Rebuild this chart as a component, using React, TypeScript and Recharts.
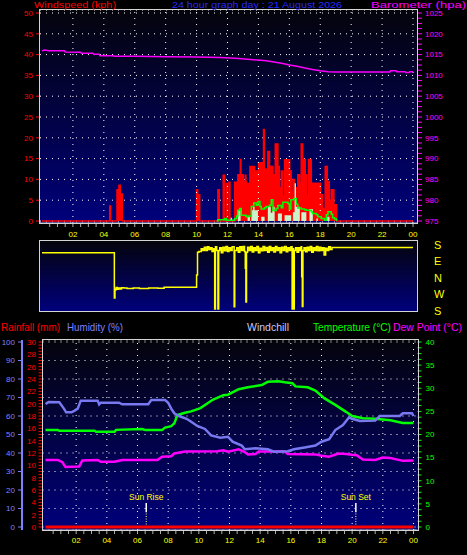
import React from "react";
import { ComposedChart, Area, Line, XAxis, YAxis, CartesianGrid, ReferenceLine } from "recharts";

type Pt = [number, number];

// x axis: hours of the day
const hourMajor = [2, 4, 6, 8, 10, 12, 14, 16, 18, 20, 22, 24];
const hourLabels = ["02", "04", "06", "08", "10", "12", "14", "16", "18", "20", "22", "00"];
const hourMinor = Array.from({ length: 48 }, (_, i) => (i + 1) / 2);

const windTicks = [0, 5, 10, 15, 20, 25, 30, 35, 40, 45, 50];
const baroTicks = Array.from({ length: 41 }, (_, i) => 975 + i * 1.25);
const rainTicks = Array.from({ length: 61 }, (_, i) => i / 2);
const humTicks = [0, 10, 20, 30, 40, 50, 60, 70, 80, 90, 100];
const tempTicks = Array.from({ length: 33 }, (_, i) => i * 1.25);
const dirTicks = [180, 90, 0, -90, -180];
const dirLabels = ["S", "E", "N", "W", "S"];

// wind gust (kph), [hour, value]
const gustKph: Pt[] = [
  [0, 0], [4.3, 0], [4.38, 3.6], [4.44, 0], [4.85, 7.5], [4.93, 5.5], [4.98, 8.6], [5.06, 5], [5.12, 6.5], [5.2, 0],
  [10.0, 7.5], [10.07, 5], [10.12, 6.3], [10.2, 0],
  [11.38, 7.5], [11.47, 0], [11.72, 11], [11.81, 0], [11.94, 9], [11.98, 0], [12.09, 9.3], [12.16, 0],
  [12.46, 9.3], [12.56, 5], [12.6, 9.3], [12.67, 11.1], [12.83, 14.8], [12.87, 6], [12.93, 11.1], [13.02, 4],
  [13.06, 9.5], [13.15, 11], [13.19, 9.5], [13.23, 3], [13.3, 9], [13.36, 5], [13.45, 13.1], [13.55, 8],
  [13.6, 13.1], [13.75, 12], [13.85, 6], [13.9, 12], [14.01, 14], [14.12, 9], [14.17, 14], [14.29, 10],
  [14.33, 22], [14.38, 12.5], [14.45, 6], [14.52, 12.5], [14.61, 16.7], [14.72, 13.1], [14.8, 7], [14.87, 13.1],
  [14.94, 11.1], [15.05, 4], [15.09, 18.5], [15.26, 13.1], [15.35, 8], [15.48, 12], [15.56, 6], [15.69, 14.7],
  [15.8, 9], [15.86, 14.7], [16.02, 12], [16.12, 7], [16.23, 10], [16.33, 5], [16.45, 8], [16.55, 11.1],
  [16.66, 9], [16.77, 18.5], [16.86, 5], [16.9, 14.8], [17.03, 11.1], [17.12, 6], [17.24, 14.8], [17.42, 9.1],
  [17.55, 4], [17.62, 9.1], [17.75, 7], [17.85, 9.1], [18.02, 6.3], [18.15, 3], [18.32, 13.1], [18.45, 9.5],
  [18.58, 5], [18.71, 7.5], [18.88, 2], [18.97, 3.9], [19.06, 0], [24, 0],
];

// wind speed (kph)
const speedKph: Pt[] = [
  [12.2, 0.8], [12.3, 0], [12.6, 0], [12.67, 2.5], [12.85, 0], [13.3, 1], [13.45, 0], [13.54, 2.6], [13.65, 3.4],
  [13.75, 2.6], [13.97, 0], [14.18, 1], [14.4, 0], [14.61, 3.4], [14.8, 2], [14.9, 3.4], [15.05, 0], [15.26, 1.8],
  [15.52, 0], [15.69, 1.4], [16.12, 0], [16.23, 2.1], [16.34, 9.1], [16.43, 3.4], [16.68, 0], [16.77, 2.1],
  [17.1, 0], [17.3, 2.9], [17.52, 0], [17.75, 0.6], [17.85, 0], [18.4, 1], [18.6, 0],
];

// average wind (kph)
const avgKph: Pt[] = [
  [11.3, 0], [11.38, 0.3], [11.81, 0.6], [11.92, 0.2], [12.46, 0.6], [12.6, 1.2], [12.67, 2.6], [12.8, 3],
  [12.89, 1.4], [13.2, 1], [13.32, 1.2], [13.54, 3.5], [13.7, 4.3], [13.86, 3.8], [13.97, 4.7], [14.1, 3.5],
  [14.18, 2.9], [14.4, 3.2], [14.5, 3.5], [14.72, 3.8], [14.83, 5.1], [14.94, 2.5], [15.15, 3], [15.26, 3.7],
  [15.48, 3.2], [15.58, 4.5], [15.91, 4.2], [16.0, 2.9], [16.1, 5.1], [16.3, 5.4], [16.45, 4], [16.55, 3.1],
  [16.77, 2.9], [16.99, 2.7], [17.1, 2.6], [17.42, 2.2], [17.5, 1.8], [17.75, 1.5], [17.85, 1], [18.06, 0.6],
  [18.28, 0.2], [18.4, 1.5], [18.5, 2.2], [18.71, 1.6], [18.8, 0.8], [18.93, 0.5], [19.05, 0],
];

// barometer (hPa)
const baroHpa: Pt[] = [
  [0, 1015.9], [0.15, 1016.1], [0.45, 1015.9], [1.45, 1015.9], [1.5, 1015.6], [2.5, 1015.55], [2.55, 1015.3],
  [3.3, 1015.3], [3.35, 1015.1], [3.7, 1015.1], [3.75, 1014.75], [4.6, 1014.7], [4.7, 1014.6], [6.0, 1014.6],
  [8.0, 1014.5], [10.0, 1014.4], [11.5, 1014.3], [12.5, 1014.1], [13.5, 1013.8], [14.5, 1013.5], [15.0, 1013.2],
  [15.5, 1012.9], [16.0, 1012.5], [16.5, 1012.2], [17.0, 1011.8], [17.5, 1011.4], [18.0, 1011.1], [18.5, 1010.9],
  [19.0, 1010.8], [21.0, 1010.8], [22.5, 1010.8], [22.55, 1011.1], [22.9, 1011.1], [22.95, 1010.85], [23.5, 1010.85],
  [23.55, 1010.7], [23.75, 1010.7], [23.8, 1010.9], [24, 1010.9],
];

// wind direction (degrees)
const dirDeg: Pt[] = [
  [0, 138], [4.68, 251], [4.72, 300], [4.77, 296], [4.8, 308], [4.88, 298], [4.95, 306], [5.05, 300], [5.15, 307],
  [5.3, 305], [5.5, 303], [5.9, 305], [6.3, 303], [6.9, 305], [7.5, 304], [7.9, 309], [10.0, 16], [10.06, 140],
  [10.15, 145], [10.3, 160], [10.4, 150], [10.5, 168], [10.6, 150], [10.7, 170], [10.8, 155], [10.9, 165],
  [11.0, 145], [11.1, 160], [11.17, 191], [11.22, 170], [11.3, 150], [11.38, 191], [11.43, 150], [11.5, 165],
  [11.6, 138], [11.7, 168], [11.8, 148], [11.9, 172], [12.0, 145], [12.1, 165], [12.2, 150], [12.3, 170],
  [12.43, 203], [12.47, 150], [12.6, 165], [12.7, 140], [12.8, 170], [12.9, 150], [13.0, 172], [13.1, 145],
  [13.15, 53], [13.19, 229], [13.23, 140], [13.3, 168], [13.4, 150], [13.5, 172], [13.6, 142], [13.7, 165],
  [13.8, 150], [13.9, 172], [14.0, 138], [14.1, 162], [14.2, 148], [14.3, 172], [14.4, 150], [14.5, 166],
  [14.6, 140], [14.7, 172], [14.8, 150], [14.9, 165], [15.0, 142], [15.1, 172], [15.2, 150], [15.3, 165],
  [15.4, 138], [15.5, 168], [15.6, 150], [15.7, 172], [15.8, 143], [15.9, 165], [16.0, 150], [16.1, 170],
  [16.18, 191], [16.24, 160], [16.27, 191], [16.32, 150], [16.4, 165], [16.5, 140], [16.6, 165], [16.68, 150],
  [16.76, 170], [16.8, 7], [16.84, 204], [16.88, 150], [16.95, 165], [17.05, 143], [17.15, 168], [17.25, 150],
  [17.35, 172], [17.45, 140], [17.55, 165], [17.65, 150], [17.75, 172], [17.85, 148], [17.95, 168], [18.05, 150],
  [18.15, 165], [18.25, 125], [18.35, 162], [18.45, 150], [18.55, 170], [18.65, 155], [18.76, 167], [24, 167],
];

// humidity (%)
const humPct: Pt[] = [
  [0, 66.5], [0.2, 67.5], [0.9, 67.4], [1.2, 64], [1.35, 62], [1.7, 62], [1.9, 62.9], [2.1, 64], [2.3, 68.3],
  [3.4, 68.3], [3.5, 66.3], [3.6, 67.2], [4.8, 67.2], [5.0, 66.3], [6.7, 66.3], [6.9, 68.6], [7.8, 68.6],
  [8.0, 67.2], [8.2, 64], [8.4, 61.5], [8.7, 60], [9.2, 58.5], [9.5, 56.9], [9.9, 54.6], [10.4, 53], [10.8, 49.5],
  [11.4, 48.3], [11.9, 48.8], [12.2, 46.1], [12.8, 44], [13.0, 42], [13.7, 42.5], [14.5, 42], [14.9, 40.7],
  [15.8, 41], [16.2, 42], [16.9, 43], [17.6, 44], [18.0, 46.1], [18.5, 47.5], [18.9, 52.4], [19.4, 55.1],
  [19.8, 59.3], [20.0, 58.5], [20.5, 57.3], [21.5, 57.5], [21.8, 60], [23.1, 60], [23.3, 61.5], [23.9, 61.5], [24, 60],
];

// temperature (°C)
const tempC: Pt[] = [
  [0, 21.0], [0.8, 21.0], [0.9, 20.8], [3.2, 20.8], [3.3, 20.6], [4.5, 20.6], [4.6, 21.0], [6.3, 21.2], [6.5, 21.0],
  [7.6, 21.0], [7.8, 21.5], [8.2, 21.8], [8.4, 22.4], [8.6, 24.2], [9.1, 24.7], [9.5, 25.0], [10.1, 25.7],
  [10.5, 26.6], [10.9, 27.5], [11.6, 28.5], [11.9, 28.6], [12.6, 29.8], [13.2, 30.2], [14.1, 30.7], [14.5, 31.4],
  [15.2, 31.5], [15.6, 31.3], [16.1, 31.1], [16.3, 30.4], [17.1, 30.2], [17.6, 29.5], [18.2, 27.8], [18.9, 26.4],
  [19.6, 24.9], [20.0, 24.0], [20.7, 23.5], [21.5, 23.4], [22.5, 23.1], [23.3, 22.5], [24, 22.5],
];

// dew point (°C)
const dewC: Pt[] = [
  [0, 14.5], [0.8, 14.5], [1.1, 14.0], [1.3, 13.0], [2.2, 13.1], [2.4, 14.4], [3.4, 14.5], [3.6, 14.1], [4.5, 14.1],
  [5.0, 14.5], [7.3, 14.5], [7.6, 15.2], [8.2, 15.3], [8.4, 15.9], [9.1, 16.3], [11.2, 16.4], [11.6, 16.6],
  [11.9, 16.3], [12.6, 16.8], [13.0, 16.2], [13.2, 15.7], [13.7, 15.8], [13.9, 16.3], [15.6, 16.3], [15.8, 15.8],
  [17.6, 15.7], [18.0, 15.4], [18.5, 15.2], [19.1, 15.9], [19.6, 15.8], [20.0, 15.6], [20.3, 15.5], [20.7, 14.6],
  [21.5, 14.5], [22.0, 15.0], [22.5, 14.9], [23.3, 14.3], [24, 14.4],
];

// rainfall (mm)
const rainMm: Pt[] = [[0, 0], [24, 0]];

const sunHours = [6.57, 20.24];
const sunLabels = ["Sun Rise", "Sun Set"];

function merge(series: Record<string, Pt[]>) {
  const rows = new Map<number, Record<string, number>>();
  Object.entries(series).forEach(([key, pts]) =>
    pts.forEach(([h, v]) => {
      const row = rows.get(h) ?? { h };
      row[key] = v;
      rows.set(h, row);
    })
  );
  return [...rows.values()].sort((a, b) => a.h - b.h);
}

const windData = merge({ gust: gustKph, speed: speedKph, avg: avgKph, baro: baroHpa });
const dirData = merge({ dir: dirDeg.map(([h, d]) => [h, d > 180 ? d - 360 : d] as Pt) });
const climateData = merge({ hum: humPct, temp: tempC, dew: dewC, rain: rainMm });

const font = "'Liberation Sans', Arial, sans-serif";
const dots = "1 5";
const hourLabel = (h: number) => {
  const i = hourMajor.indexOf(h);
  return i >= 0 ? hourLabels[i] : "";
};
const every = (n: number) => (v: number) => (v % n === 0 ? String(v) : "");

const series = { dot: false, activeDot: false, isAnimationActive: false, connectNulls: true } as const;

function Border({ left, top, width, height }: { left: number; top: number; width: number; height: number }) {
  return (
    <div
      style={{
        position: "absolute", left, top, width, height, boxSizing: "border-box",
        border: "1.5px solid #d4d4d4", pointerEvents: "none",
      }}
    />
  );
}

function WindChart() {
  return (
    <ComposedChart width={467} height={245} data={windData} margin={{ top: 10, right: 0, bottom: 0, left: 0 }}>
      <CartesianGrid yAxisId="wind" vertical={false} stroke="#ffffff" strokeDasharray={dots} fill="url(#plotBg)" fillOpacity={1} />
      <XAxis dataKey="h" type="number" domain={[0, 24]} ticks={hourMinor} interval={0} tickFormatter={hourLabel}
        padding={{ left: 2, right: 4 }} height={22} tickSize={4} tickMargin={4} stroke="#b0b0b0"
        tick={{ fill: "#ffff00", fontSize: 8 }} />
      <YAxis yAxisId="wind" domain={[0, 50]} ticks={windTicks} interval={0} width={40} padding={{ top: 3, bottom: 2 }}
        axisLine={false} tickSize={4} tickMargin={3} tickLine={{ stroke: "#ff0000" }} tick={{ fill: "#ff0000", fontSize: 8 }} />
      <YAxis yAxisId="baro" orientation="right" domain={[975, 1025]} ticks={baroTicks} interval={0} tickFormatter={every(5)}
        width={50} padding={{ top: 3, bottom: 2 }} axisLine={false} tickSize={5} tickMargin={3}
        tickLine={{ stroke: "#ff00ff" }} tick={{ fill: "#ff00ff", fontSize: 8 }} />
      {hourMajor.map((h) => (
        <ReferenceLine key={h} yAxisId="wind" x={h} stroke="#ffffff" strokeDasharray={dots} />
      ))}
      <Area yAxisId="wind" dataKey="gust" type="stepAfter" stroke="#ff0000" strokeWidth={1.5} fill="#ff0000" fillOpacity={1} {...series} />
      <Area yAxisId="wind" dataKey="speed" type="stepAfter" stroke="none" fill="#ccf2cc" fillOpacity={1} {...series} />
      <Line yAxisId="wind" dataKey="avg" type="stepAfter" stroke="#00ff00" strokeWidth={1.5} {...series} />
      <Line yAxisId="baro" dataKey="baro" type="linear" stroke="#ff00ff" strokeWidth={1.5} {...series} />
    </ComposedChart>
  );
}

function DirectionChart() {
  return (
    <ComposedChart width={467} height={79} data={dirData} margin={{ top: 3, right: 0, bottom: 6, left: 40 }}>
      <CartesianGrid yAxisId="dir" horizontal={false} vertical={false} fill="url(#plotBg)" fillOpacity={1} />
      <XAxis dataKey="h" type="number" domain={[0, 24]} hide padding={{ left: 2, right: 4 }} />
      <YAxis yAxisId="dir" orientation="right" domain={[-180, 180]} ticks={dirTicks} interval={0}
        tickFormatter={(v: number) => dirLabels[dirTicks.indexOf(v)]} width={50} padding={{ top: 4, bottom: 0 }}
        axisLine={false} tickLine={false} tickSize={0} tickMargin={17} tick={{ fill: "#ffff00", fontSize: 11 }} />
      <Line yAxisId="dir" dataKey="dir" type="stepAfter" stroke="#ffff00" strokeWidth={1.5} {...series} />
    </ComposedChart>
  );
}

// left axes are stacked by id: "mm" (rainfall) sits next to the plot, "pct" (humidity) outside it
function ClimateChart() {
  return (
    <ComposedChart width={467} height={225} data={climateData} margin={{ top: 10, right: 0, bottom: 0, left: 0 }}>
      <CartesianGrid yAxisId="pct" vertical={false} stroke="#ffffff" strokeDasharray={dots} fill="url(#plotBg)" fillOpacity={1} />
      <XAxis dataKey="h" type="number" domain={[0, 24]} ticks={hourMinor} interval={0} tickFormatter={hourLabel}
        padding={{ left: 3, right: 4 }} height={25} tickSize={4} tickMargin={3} stroke="#b0b0b0"
        tick={{ fill: "#ffff00", fontSize: 8 }} />
      <YAxis yAxisId="mm" domain={[0, 30]} ticks={rainTicks} interval={0} tickFormatter={every(2)} width={20.5}
        padding={{ top: 2, bottom: 3 }} axisLine={false} tickSize={4} tickMargin={2.5}
        tickLine={{ stroke: "#ff0000" }} tick={{ fill: "#ff0000", fontSize: 8 }} />
      <YAxis yAxisId="pct" domain={[0, 100]} ticks={humTicks} interval={0} width={22} padding={{ top: 2, bottom: 3 }}
        axisLine={{ stroke: "#8080ff", strokeWidth: 2 }} tickSize={4} tickMargin={3}
        tickLine={{ stroke: "#8080ff" }} tick={{ fill: "#8080ff", fontSize: 8 }} />
      <YAxis yAxisId="temp" orientation="right" domain={[0, 40]} ticks={tempTicks} interval={0} tickFormatter={every(5)}
        width={49.5} padding={{ top: 2, bottom: 3 }} axisLine={false} tickSize={4} tickMargin={4}
        tickLine={{ stroke: "#00ff00" }} tick={{ fill: "#00ff00", fontSize: 8 }} />
      {hourMajor.map((h) => (
        <ReferenceLine key={h} yAxisId="pct" x={h} stroke="#ffffff" strokeDasharray={dots} />
      ))}
      {sunHours.map((h) => (
        <ReferenceLine key={"s" + h} yAxisId="pct" segment={[{ x: h, y: 0 }, { x: h, y: 8 }]} stroke="#ffff80" strokeDasharray="1 1.5" />
      ))}
      {sunHours.map((h, i) => (
        <ReferenceLine key={"w" + h} yAxisId="pct" segment={[{ x: h, y: 8 }, { x: h, y: 13 }]} stroke="#ffffff" strokeWidth={1.5}
          label={{ value: sunLabels[i], position: "top", offset: 3, fill: "#ffff00", fontSize: 8.5 }} />
      ))}
      <Line yAxisId="mm" dataKey="rain" type="linear" stroke="#ff0000" strokeWidth={3} {...series} />
      <Line yAxisId="temp" dataKey="dew" type="linear" stroke="#ff00ff" strokeWidth={2.5} {...series} />
      <Line yAxisId="temp" dataKey="temp" type="linear" stroke="#00ff00" strokeWidth={2.5} {...series} />
      <Line yAxisId="pct" dataKey="hum" type="linear" stroke="#7878f0" strokeWidth={2.5} {...series} />
    </ComposedChart>
  );
}

export default function App() {
  return (
    <div style={{ position: "absolute", left: 0, top: 0, width: 467, height: 555, background: "#000", fontFamily: font, overflow: "hidden" }}>
      <svg width={0} height={0} style={{ position: "absolute" }}>
        <defs>
          <linearGradient id="plotBg" x1="0" y1="0" x2="0" y2="1">
            <stop offset="0%" stopColor="#04040c" />
            <stop offset="100%" stopColor="#00007c" />
          </linearGradient>
        </defs>
      </svg>
      <div style={{ position: "absolute", left: 0, top: 0 }}><WindChart /></div>
      <Border left={39} top={9} width={379} height={215} />
      <div style={{ position: "absolute", left: 0, top: 238 }}><DirectionChart /></div>
      <Border left={39} top={240} width={379} height={72} />
      <div style={{ position: "absolute", left: 0, top: 330 }}><ClimateChart /></div>
      <Border left={41.5} top={339} width={377} height={192} />
      <svg width={467} height={555} style={{ position: "absolute", left: 0, top: 0, pointerEvents: "none" }}>
        <g fontSize={9.5}>
          <text x={34} y={7.8} fill="#ff0000" textLength={82} lengthAdjust="spacingAndGlyphs">Windspeed (kph)</text>
          <text x={172} y={7.8} fill="#2a2aff" textLength={170} lengthAdjust="spacingAndGlyphs">24 hour graph day : 21 August 2026</text>
          <text x={371} y={7.8} fill="#ff00ff" textLength={95} lengthAdjust="spacingAndGlyphs">Barometer (hpa)</text>
        </g>
        <g fontSize={10.5}>
          <text x={1} y={331} fill="#ff0000" textLength={59} lengthAdjust="spacingAndGlyphs">Rainfall (mm)</text>
          <text x={67} y={331} fill="#8080ff" textLength={56} lengthAdjust="spacingAndGlyphs">Humidity (%)</text>
          <text x={247} y={331} fill="#c8c8ff" textLength={42} lengthAdjust="spacingAndGlyphs">Windchill</text>
          <text x={313} y={331} fill="#00ff00" textLength={78} lengthAdjust="spacingAndGlyphs">Temperature (°C)</text>
          <text x={393} y={331} fill="#ff00ff" textLength={69} lengthAdjust="spacingAndGlyphs">Dew Point (°C)</text>
        </g>
      </svg>
    </div>
  );
}
